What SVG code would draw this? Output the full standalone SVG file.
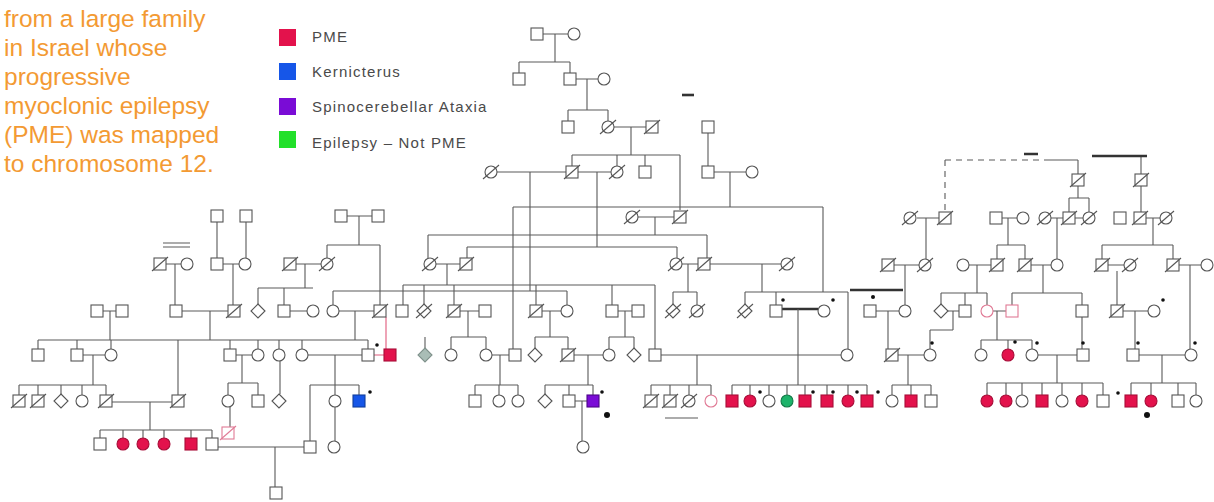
<svg xmlns="http://www.w3.org/2000/svg" xmlns:xlink="http://www.w3.org/1999/xlink" width="1214" height="502" viewBox="0 0 1214 502">
<style>
.cap{font-family:"Liberation Sans",Arial,sans-serif;font-size:24.5px;fill:#F39A33}
.leg{font-family:"Liberation Sans",Arial,sans-serif;font-size:15px;fill:#4a4a4a;letter-spacing:1.2px}
.nd{fill:#fff;stroke:#555;stroke-width:1.1}
.nd line{stroke:#555;stroke-width:1.1}
.red{fill:#E3124C;stroke:#a80d38}
.blue{fill:#1656E8;stroke:#123f9c}
.pur{fill:#7A0CD6;stroke:#4d0788}
.grn{fill:#1DB36A;stroke:#127a47}
.gry{fill:#a9bdb6;stroke:#7f918b}
.pnk{stroke:#e07a95}
.con path{fill:none;stroke:#5a5a5a;stroke-width:1.1}
.con .thk{stroke-width:2.6;stroke:#333}
.con .dash{stroke-dasharray:6 5}
.con .rd{stroke:#e05a7c}
.dot{fill:#111}
</style>
<defs>
<rect id="sq" x="-6" y="-6" width="12" height="12"/>
<circle id="ci" r="6"/>
<polygon id="di" points="0,-7 7,0 0,7 -7,0"/>
<line id="sl" x1="-8" y1="7" x2="8" y2="-7"/>
</defs>
<g id="caption">
<text class="cap" x="4" y="27">from a large family</text>
<text class="cap" x="4" y="56">in Israel whose</text>
<text class="cap" x="4" y="85">progressive</text>
<text class="cap" x="4" y="114">myoclonic epilepsy</text>
<text class="cap" x="4" y="143">(PME) was mapped</text>
<text class="cap" x="4" y="172">to chromosome 12.</text>
</g>
<g id="legend">
<rect x="279" y="29" width="17" height="17" fill="#E3124C"/>
<rect x="279" y="63" width="17" height="17" fill="#1656E8"/>
<rect x="279" y="98" width="17" height="17" fill="#7A0CD6"/>
<rect x="279" y="131" width="17" height="17" fill="#22E02A"/>
<text class="leg" x="312" y="42">PME</text>
<text class="leg" x="312" y="77">Kernicterus</text>
<text class="leg" x="312" y="112">Spinocerebellar Ataxia</text>
<text class="leg" x="312" y="148">Epilepsy – Not PME</text>
</g>
<g id="connectors" class="con">
<path d="M543 34H568M555 34V62M519 62H570M519 62V73M570 62V73"/>
<path d="M576 79H598M587 79V110M568 110H608M568 110V121M608 110V121"/>
<path d="M614 127H646M631 127V155M572 155H680M572 155V166M617 155V166M645 155V166M680 155V210"/>
<path d="M708 133V166"/>
<path class="thk" d="M682 95H694"/>
<path d="M497 172H566M530 172V291M578 172H611M597 172V247M714 172H746M730 172V207M513 207H823M513 207V349M823 207V292"/>
<path d="M217 222V258M246 222V258"/>
<path d="M347 216H372M359 216V245M327 245H380M327 245V258M380 245V305"/>
<path d="M638 217H674M655 217V235M428 235H707M428 235V258M707 235V258"/>
<path d="M467 247H677M467 247V258M677 247V258"/>
<path class="dash" d="M945 160H1050M945 160V210"/>
<path d="M1050 160H1078M1078 160V174M1141 157V174"/>
<path class="thk" d="M1024 154H1038M1092 156H1147"/>
<path d="M1078 186V198M1069 198H1089M1069 198V212M1089 198V212M1141 186V212"/>
<path d="M917 218H939M926 218V259"/>
<path d="M1002 218H1017M1008 218V245M997 245H1025M997 245V259M1025 245V259"/>
<path d="M1051 218H1063M1075 218H1083M1057 218V259"/>
<path d="M1146 218H1160M1153 218V245M1102 245H1173M1102 245V259M1173 245V259"/>
<path d="M166 264H181M175 264V305M223 264H239M233 264V305"/>
<path d="M163 243H190M163 247H190"/>
<path d="M296 264H321M305 264V288M258 288H313M258 288V304M284 288V305"/>
<path d="M436 264H460M447 264V285M403 285H655M403 285V305M424 285V304M454 285V305M536 285V305M612 285V305M655 285V349"/>
<path d="M333 291H567M333 291V305M567 291V305"/>
<path d="M682 264H698M688 264V292M673 292H697M673 292V305M697 292V305"/>
<path d="M710 264H781M762 264V292M745 292H848M745 292V304M776 292V305M848 292V349"/>
<path d="M894 265H919M905 265V305"/>
<path d="M969 265H991M977 265V293M941 293H987M941 293V304M965 293V305M987 293V305"/>
<path d="M1031 265H1051M1043 265V293M1012 293H1082M1012 293V305M1082 293V349"/>
<path d="M1108 265H1124M1117 271V305M1179 265H1201M1190 265V349"/>
<path class="thk" d="M850 290H903"/>
<path d="M103 311H116M110 311V340M182 311H228M210 311V340M290 311H307M339 311H374M355 311V340"/>
<path d="M38 340H368M38 340V349M77 340V349M111 340V349M178 340V395M230 340V349M258 340V349M279 340V349M302 340V349M368 340V349"/>
<path class="rd" d="M386 317V349M374 355H384"/>
<path d="M425 337V348"/>
<path d="M460 311H479M468 311V337M451 337H486M451 337V349M486 337V349"/>
<path d="M542 311H561M550 311V337M535 337H568M535 337V348M568 337V349"/>
<path d="M618 311H632M625 311V337M609 337H634M609 337V349M634 337V348"/>
<path class="thk" d="M782 309H818"/>
<path d="M798 309V385M876 311H899M888 311V349"/>
<path d="M947 311H959M953 311V330M930 330H953M930 330V349"/>
<path d="M993 311H1006M997 311V340M981 340H1032M981 340V349M1008 340V349M1032 340V349"/>
<path d="M1123 311H1148M1135 311V349"/>
<path d="M83 355H105M93 355V385M19 385H106M19 385V395M38 385V395M61 385V394M82 385V395M106 385V395"/>
<path d="M236 355H252M242 355V383M228 383H258M228 383V395M258 383V395M280 361V394"/>
<path d="M308 355H362M335 355V385M310 385H359M310 385V441M335 385V395M359 385V395"/>
<path d="M492 355H509M500 355V385M475 385H518M475 385V395M499 385V395M518 385V395"/>
<path d="M574 355H603M588 355V385M545 385H593M545 385V394M569 385V395M593 385V395"/>
<path d="M661 355H841M697 355V385M651 385H711M651 385V395M670 385V395M689 385V395M711 385V395"/>
<path d="M732 385H867M732 385V395M750 385V395M769 385V395M787 385V395M805 385V395M827 385V395M848 385V395M867 385V395"/>
<path d="M898 355H924M908 355V385M892 385H931M892 385V395M911 385V395M931 385V395"/>
<path d="M1038 355H1077M1057 355V383M987 383H1103M987 383V395M1006 383V395M1022 383V395M1042 383V395M1062 383V395M1082 383V395M1103 383V395"/>
<path d="M1139 355H1185M1162 355V383M1131 383H1196M1131 383V395M1151 383V395M1178 383V395M1196 383V395"/>
<path d="M112 402H172M150 402V430M100 430H212M100 430V438M123 430V438M143 430V438M164 430V438M191 430V438M212 430V438"/>
<path d="M230 407V427M335 407V441"/>
<path d="M575 401H587M582 401V441"/>
<path d="M217 447H304M275 447V487"/>
<path d="M665 418H698"/>
</g>
<g id="dots" class="dot">
<circle cx="377" cy="345" r="1.8"/><circle cx="370" cy="392" r="1.8"/><circle cx="602" cy="392" r="1.8"/>
<circle cx="607" cy="415" r="3"/><circle cx="1147" cy="415" r="3"/>
<circle cx="760" cy="392" r="1.8"/><circle cx="813" cy="392" r="1.8"/><circle cx="833" cy="392" r="1.8"/><circle cx="857" cy="392" r="1.8"/><circle cx="878" cy="392" r="1.8"/>
<circle cx="1118" cy="393" r="1.8"/><circle cx="932" cy="343" r="1.8"/><circle cx="1015" cy="342" r="1.8"/><circle cx="1037" cy="343" r="1.8"/><circle cx="1083" cy="343" r="1.8"/><circle cx="1138" cy="343" r="1.8"/><circle cx="1195" cy="343" r="1.8"/>
<circle cx="873" cy="297" r="2"/><circle cx="783" cy="300" r="1.8"/><circle cx="833" cy="300" r="1.8"/><circle cx="1163" cy="300" r="1.8"/>
</g>
<g id="n1" class="nd" transform="translate(537,34)"><use href="#sq"/></g>
<g id="n2" class="nd" transform="translate(574,34)"><use href="#ci"/></g>
<g id="n3" class="nd" transform="translate(519,79)"><use href="#sq"/></g>
<g id="n4" class="nd" transform="translate(570,79)"><use href="#sq"/></g>
<g id="n5" class="nd" transform="translate(604,79)"><use href="#ci"/></g>
<g id="n6" class="nd" transform="translate(568,127)"><use href="#sq"/></g>
<g id="n7" class="nd" transform="translate(608,127)"><use href="#ci"/><use href="#sl"/></g>
<g id="n8" class="nd" transform="translate(652,127)"><use href="#sq"/><use href="#sl"/></g>
<g id="n9" class="nd" transform="translate(708,127)"><use href="#sq"/></g>
<g id="n10" class="nd" transform="translate(491,172)"><use href="#ci"/><use href="#sl"/></g>
<g id="n11" class="nd" transform="translate(572,172)"><use href="#sq"/><use href="#sl"/></g>
<g id="n12" class="nd" transform="translate(617,172)"><use href="#ci"/><use href="#sl"/></g>
<g id="n13" class="nd" transform="translate(645,172)"><use href="#sq"/></g>
<g id="n14" class="nd" transform="translate(708,172)"><use href="#sq"/></g>
<g id="n15" class="nd" transform="translate(752,172)"><use href="#ci"/></g>
<g id="n16" class="nd" transform="translate(1078,180)"><use href="#sq"/><use href="#sl"/></g>
<g id="n17" class="nd" transform="translate(1141,180)"><use href="#sq"/><use href="#sl"/></g>
<g id="n18" class="nd" transform="translate(217,216)"><use href="#sq"/></g>
<g id="n19" class="nd" transform="translate(246,216)"><use href="#sq"/></g>
<g id="n20" class="nd" transform="translate(341,216)"><use href="#sq"/></g>
<g id="n21" class="nd" transform="translate(378,216)"><use href="#sq"/></g>
<g id="n22" class="nd" transform="translate(632,217)"><use href="#ci"/><use href="#sl"/></g>
<g id="n23" class="nd" transform="translate(680,217)"><use href="#sq"/><use href="#sl"/></g>
<g id="n24" class="nd" transform="translate(910,218)"><use href="#ci"/><use href="#sl"/></g>
<g id="n25" class="nd" transform="translate(945,218)"><use href="#sq"/><use href="#sl"/></g>
<g id="n26" class="nd" transform="translate(996,218)"><use href="#sq"/></g>
<g id="n27" class="nd" transform="translate(1023,218)"><use href="#ci"/></g>
<g id="n28" class="nd" transform="translate(1045,218)"><use href="#ci"/><use href="#sl"/></g>
<g id="n29" class="nd" transform="translate(1069,218)"><use href="#sq"/><use href="#sl"/></g>
<g id="n30" class="nd" transform="translate(1089,218)"><use href="#ci"/><use href="#sl"/></g>
<g id="n31" class="nd" transform="translate(1120,218)"><use href="#sq"/></g>
<g id="n32" class="nd" transform="translate(1140,218)"><use href="#sq"/><use href="#sl"/></g>
<g id="n33" class="nd" transform="translate(1166,218)"><use href="#ci"/><use href="#sl"/></g>
<g id="n34" class="nd" transform="translate(160,264)"><use href="#sq"/><use href="#sl"/></g>
<g id="n35" class="nd" transform="translate(187,264)"><use href="#ci"/></g>
<g id="n36" class="nd" transform="translate(217,264)"><use href="#sq"/></g>
<g id="n37" class="nd" transform="translate(245,264)"><use href="#ci"/></g>
<g id="n38" class="nd" transform="translate(290,264)"><use href="#sq"/><use href="#sl"/></g>
<g id="n39" class="nd" transform="translate(327,264)"><use href="#ci"/><use href="#sl"/></g>
<g id="n40" class="nd" transform="translate(430,264)"><use href="#ci"/><use href="#sl"/></g>
<g id="n41" class="nd" transform="translate(466,264)"><use href="#sq"/><use href="#sl"/></g>
<g id="n42" class="nd" transform="translate(676,264)"><use href="#ci"/><use href="#sl"/></g>
<g id="n43" class="nd" transform="translate(704,264)"><use href="#sq"/><use href="#sl"/></g>
<g id="n44" class="nd" transform="translate(787,264)"><use href="#ci"/><use href="#sl"/></g>
<g id="n45" class="nd" transform="translate(888,265)"><use href="#sq"/><use href="#sl"/></g>
<g id="n46" class="nd" transform="translate(925,265)"><use href="#ci"/><use href="#sl"/></g>
<g id="n47" class="nd" transform="translate(963,265)"><use href="#ci"/></g>
<g id="n48" class="nd" transform="translate(997,265)"><use href="#sq"/><use href="#sl"/></g>
<g id="n49" class="nd" transform="translate(1025,265)"><use href="#sq"/><use href="#sl"/></g>
<g id="n50" class="nd" transform="translate(1057,265)"><use href="#ci"/></g>
<g id="n51" class="nd" transform="translate(1102,265)"><use href="#sq"/><use href="#sl"/></g>
<g id="n52" class="nd" transform="translate(1130,265)"><use href="#ci"/><use href="#sl"/></g>
<g id="n53" class="nd" transform="translate(1173,265)"><use href="#sq"/><use href="#sl"/></g>
<g id="n54" class="nd" transform="translate(1207,265)"><use href="#ci"/></g>
<g id="n55" class="nd" transform="translate(97,311)"><use href="#sq"/></g>
<g id="n56" class="nd" transform="translate(122,311)"><use href="#sq"/></g>
<g id="n57" class="nd" transform="translate(176,311)"><use href="#sq"/></g>
<g id="n58" class="nd" transform="translate(234,311)"><use href="#sq"/><use href="#sl"/></g>
<g id="n59" class="nd" transform="translate(258,311)"><use href="#di"/></g>
<g id="n60" class="nd" transform="translate(284,311)"><use href="#sq"/></g>
<g id="n61" class="nd" transform="translate(313,311)"><use href="#ci"/></g>
<g id="n62" class="nd" transform="translate(333,311)"><use href="#ci"/></g>
<g id="n63" class="nd" transform="translate(380,311)"><use href="#sq"/><use href="#sl"/></g>
<g id="n64" class="nd" transform="translate(402,311)"><use href="#sq"/></g>
<g id="n65" class="nd" transform="translate(424,311)"><use href="#di"/><use href="#sl"/></g>
<g id="n66" class="nd" transform="translate(454,311)"><use href="#sq"/><use href="#sl"/></g>
<g id="n67" class="nd" transform="translate(485,311)"><use href="#sq"/></g>
<g id="n68" class="nd" transform="translate(536,311)"><use href="#sq"/><use href="#sl"/></g>
<g id="n69" class="nd" transform="translate(567,311)"><use href="#ci"/></g>
<g id="n70" class="nd" transform="translate(612,311)"><use href="#sq"/></g>
<g id="n71" class="nd" transform="translate(638,311)"><use href="#sq"/></g>
<g id="n72" class="nd" transform="translate(673,311)"><use href="#di"/><use href="#sl"/></g>
<g id="n73" class="nd" transform="translate(697,311)"><use href="#ci"/><use href="#sl"/></g>
<g id="n74" class="nd" transform="translate(745,311)"><use href="#di"/><use href="#sl"/></g>
<g id="n75" class="nd" transform="translate(776,311)"><use href="#sq"/></g>
<g id="n76" class="nd" transform="translate(824,311)"><use href="#ci"/></g>
<g id="n77" class="nd" transform="translate(870,311)"><use href="#sq"/></g>
<g id="n78" class="nd" transform="translate(905,311)"><use href="#ci"/></g>
<g id="n79" class="nd" transform="translate(941,311)"><use href="#di"/></g>
<g id="n80" class="nd" transform="translate(965,311)"><use href="#sq"/></g>
<g id="n81" class="nd pnk" transform="translate(987,311)"><use href="#ci"/></g>
<g id="n82" class="nd pnk" transform="translate(1012,311)"><use href="#sq"/></g>
<g id="n83" class="nd" transform="translate(1082,311)"><use href="#sq"/></g>
<g id="n84" class="nd" transform="translate(1117,311)"><use href="#sq"/><use href="#sl"/></g>
<g id="n85" class="nd" transform="translate(1154,311)"><use href="#ci"/></g>
<g id="n86" class="nd" transform="translate(38,355)"><use href="#sq"/></g>
<g id="n87" class="nd" transform="translate(77,355)"><use href="#sq"/></g>
<g id="n88" class="nd" transform="translate(111,355)"><use href="#ci"/></g>
<g id="n89" class="nd" transform="translate(230,355)"><use href="#sq"/></g>
<g id="n90" class="nd" transform="translate(258,355)"><use href="#ci"/></g>
<g id="n91" class="nd" transform="translate(279,355)"><use href="#ci"/></g>
<g id="n92" class="nd" transform="translate(302,355)"><use href="#ci"/></g>
<g id="n93" class="nd" transform="translate(368,355)"><use href="#sq"/></g>
<g id="n94" class="nd red" transform="translate(390,355)"><use href="#sq"/></g>
<g id="n95" class="nd gry" transform="translate(425,355)"><use href="#di"/></g>
<g id="n96" class="nd" transform="translate(451,355)"><use href="#ci"/></g>
<g id="n97" class="nd" transform="translate(486,355)"><use href="#ci"/></g>
<g id="n98" class="nd" transform="translate(515,355)"><use href="#sq"/></g>
<g id="n99" class="nd" transform="translate(535,355)"><use href="#di"/></g>
<g id="n100" class="nd" transform="translate(568,355)"><use href="#sq"/><use href="#sl"/></g>
<g id="n101" class="nd" transform="translate(609,355)"><use href="#ci"/></g>
<g id="n102" class="nd" transform="translate(634,355)"><use href="#di"/></g>
<g id="n103" class="nd" transform="translate(655,355)"><use href="#sq"/></g>
<g id="n104" class="nd" transform="translate(847,355)"><use href="#ci"/></g>
<g id="n105" class="nd" transform="translate(892,355)"><use href="#sq"/><use href="#sl"/></g>
<g id="n106" class="nd" transform="translate(930,355)"><use href="#ci"/></g>
<g id="n107" class="nd" transform="translate(981,355)"><use href="#ci"/></g>
<g id="n108" class="nd red" transform="translate(1008,355)"><use href="#ci"/></g>
<g id="n109" class="nd" transform="translate(1032,355)"><use href="#ci"/></g>
<g id="n110" class="nd" transform="translate(1083,355)"><use href="#sq"/></g>
<g id="n111" class="nd" transform="translate(1133,355)"><use href="#sq"/></g>
<g id="n112" class="nd" transform="translate(1191,355)"><use href="#ci"/></g>
<g id="n113" class="nd" transform="translate(19,401)"><use href="#sq"/><use href="#sl"/></g>
<g id="n114" class="nd" transform="translate(38,401)"><use href="#sq"/><use href="#sl"/></g>
<g id="n115" class="nd" transform="translate(61,401)"><use href="#di"/></g>
<g id="n116" class="nd" transform="translate(82,401)"><use href="#ci"/></g>
<g id="n117" class="nd" transform="translate(106,401)"><use href="#sq"/><use href="#sl"/></g>
<g id="n118" class="nd" transform="translate(178,401)"><use href="#sq"/><use href="#sl"/></g>
<g id="n119" class="nd" transform="translate(228,401)"><use href="#ci"/></g>
<g id="n120" class="nd" transform="translate(258,401)"><use href="#sq"/></g>
<g id="n121" class="nd" transform="translate(279,401)"><use href="#di"/></g>
<g id="n122" class="nd" transform="translate(335,401)"><use href="#ci"/></g>
<g id="n123" class="nd blue" transform="translate(359,401)"><use href="#sq"/></g>
<g id="n124" class="nd" transform="translate(475,401)"><use href="#sq"/></g>
<g id="n125" class="nd" transform="translate(499,401)"><use href="#ci"/></g>
<g id="n126" class="nd" transform="translate(518,401)"><use href="#ci"/></g>
<g id="n127" class="nd" transform="translate(545,401)"><use href="#di"/></g>
<g id="n128" class="nd" transform="translate(569,401)"><use href="#sq"/></g>
<g id="n129" class="nd pur" transform="translate(593,401)"><use href="#sq"/></g>
<g id="n130" class="nd" transform="translate(651,401)"><use href="#sq"/><use href="#sl"/></g>
<g id="n131" class="nd" transform="translate(670,401)"><use href="#sq"/><use href="#sl"/></g>
<g id="n132" class="nd" transform="translate(689,401)"><use href="#ci"/><use href="#sl"/></g>
<g id="n133" class="nd pnk" transform="translate(711,401)"><use href="#ci"/></g>
<g id="n134" class="nd red" transform="translate(732,401)"><use href="#sq"/></g>
<g id="n135" class="nd red" transform="translate(750,401)"><use href="#ci"/></g>
<g id="n136" class="nd" transform="translate(769,401)"><use href="#ci"/></g>
<g id="n137" class="nd grn" transform="translate(787,401)"><use href="#ci"/></g>
<g id="n138" class="nd red" transform="translate(805,401)"><use href="#sq"/></g>
<g id="n139" class="nd red" transform="translate(827,401)"><use href="#sq"/></g>
<g id="n140" class="nd red" transform="translate(848,401)"><use href="#ci"/></g>
<g id="n141" class="nd red" transform="translate(867,401)"><use href="#sq"/></g>
<g id="n142" class="nd" transform="translate(892,401)"><use href="#ci"/></g>
<g id="n143" class="nd red" transform="translate(911,401)"><use href="#sq"/></g>
<g id="n144" class="nd" transform="translate(931,401)"><use href="#sq"/></g>
<g id="n145" class="nd red" transform="translate(987,401)"><use href="#ci"/></g>
<g id="n146" class="nd red" transform="translate(1006,401)"><use href="#ci"/></g>
<g id="n147" class="nd" transform="translate(1022,401)"><use href="#ci"/></g>
<g id="n148" class="nd red" transform="translate(1042,401)"><use href="#sq"/></g>
<g id="n149" class="nd" transform="translate(1062,401)"><use href="#ci"/></g>
<g id="n150" class="nd red" transform="translate(1082,401)"><use href="#ci"/></g>
<g id="n151" class="nd" transform="translate(1103,401)"><use href="#sq"/></g>
<g id="n152" class="nd red" transform="translate(1131,401)"><use href="#sq"/></g>
<g id="n153" class="nd red" transform="translate(1151,401)"><use href="#ci"/></g>
<g id="n154" class="nd" transform="translate(1178,401)"><use href="#sq"/></g>
<g id="n155" class="nd" transform="translate(1196,401)"><use href="#ci"/></g>
<g id="n156" class="nd" transform="translate(100,444)"><use href="#sq"/></g>
<g id="n157" class="nd red" transform="translate(123,444)"><use href="#ci"/></g>
<g id="n158" class="nd red" transform="translate(143,444)"><use href="#ci"/></g>
<g id="n159" class="nd red" transform="translate(164,444)"><use href="#ci"/></g>
<g id="n160" class="nd red" transform="translate(191,444)"><use href="#sq"/></g>
<g id="n161" class="nd" transform="translate(212,444)"><use href="#sq"/></g>
<g id="n162" class="nd pnk" transform="translate(228,433)"><use href="#sq"/><use href="#sl"/></g>
<g id="n163" class="nd" transform="translate(310,447)"><use href="#sq"/></g>
<g id="n164" class="nd" transform="translate(334,447)"><use href="#ci"/></g>
<g id="n165" class="nd" transform="translate(583,447)"><use href="#ci"/></g>
<g id="n166" class="nd" transform="translate(276,493)"><use href="#sq"/></g>
</svg>
